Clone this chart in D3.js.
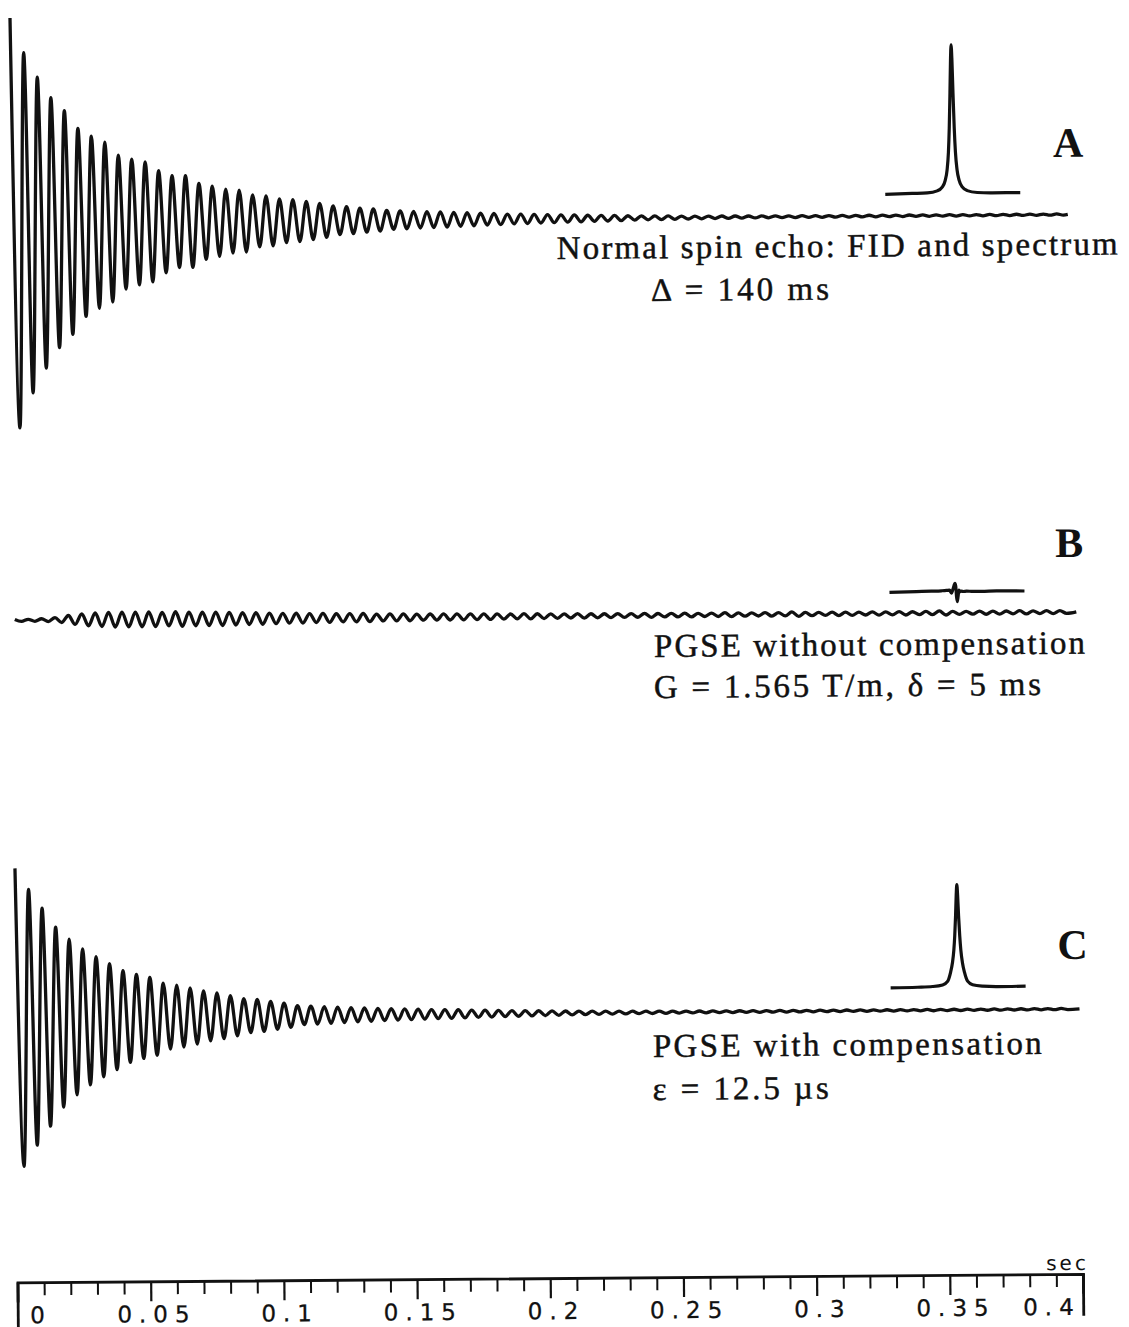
<!DOCTYPE html>
<html>
<head>
<meta charset="utf-8">
<script src="https://cdn.jsdelivr.net/npm/d3@7"></script>
<style>
  html, body { margin: 0; padding: 0; background: #fff; }
  svg { display: block; }
</style>
</head>
<body>
<svg id="chart" width="1129" height="1327"></svg>
<script>
// ---- time axis (seconds) ----
const majorTicks = [0, 0.05, 0.1, 0.15, 0.2, 0.25, 0.3, 0.35, 0.4];
const tickLabels = ["0", "0.05", "0.1", "0.15", "0.2", "0.25", "0.3", "0.35", "0.4"];
const minorTicks = [0.01, 0.02, 0.03, 0.04, 0.06, 0.07, 0.08, 0.09, 0.11, 0.12, 0.13, 0.14,
  0.16, 0.17, 0.18, 0.19, 0.21, 0.22, 0.23, 0.24, 0.26, 0.27, 0.28, 0.29,
  0.31, 0.32, 0.33, 0.34, 0.36, 0.37, 0.38, 0.39];
const axisUnit = "sec";

// ---- FIDs: oscillation period (s), start / end time (s) and
//      amplitude of every cycle (a.u., first echo maximum = 100) ----
const fidPeriod = 0.00503;

const fidStartA = 0.001, fidEndA = 0.3975;
const fidAmpA = [
  100, 83, 71, 61, 54.6, 45.9, 42, 39, 32.7, 30.7,
  29.3, 24.9, 22.4, 22.4, 18.5, 17.1, 15.6, 15.1, 12.7, 12.2,
  10.7, 10.2, 9.3, 8.3, 7.0, 6.6, 5.9, 5.4, 4.6, 4.4,
  4.1, 3.9, 3.7, 3.4, 3.2, 2.9, 2.7, 2.4, 2.3, 2.1,
  2.0, 1.8, 1.7, 1.5, 1.4, 1.3, 1.1, 1.0, 0.93, 0.83,
  0.73, 0.68, 0.63, 0.59, 0.54, 0.49, 0.46, 0.44, 0.44, 0.42,
  0.42, 0.4, 0.4, 0.39, 0.39, 0.37, 0.37, 0.35, 0.35, 0.34,
  0.34, 0.32, 0.32, 0.31, 0.31, 0.3, 0.3, 0.29, 0.29
];

const fidStartB = 0.001, fidEndB = 0.3995;
const fidAmpB = [
  0.5, 0.5, 0.7, 1.2, 2.2, 2.9, 3.3, 3.6, 3.6, 3.6,
  3.6, 3.3, 3.6, 3.3, 3.3, 3.3, 3.1, 2.9, 2.9, 2.6,
  2.4, 2.4, 2.2, 2.2, 2.0, 2.0, 2.0, 1.7, 1.7, 1.7,
  1.5, 1.5, 1.5, 1.5, 1.4, 1.4, 1.3, 1.2, 1.3, 1.2,
  1.1, 1.0, 1.15, 1.0, 0.95, 0.95, 0.9, 1.0, 0.85, 0.9,
  0.95, 0.8, 0.85, 1.0, 0.8, 0.75, 0.9, 0.8, 1.1, 0.8,
  0.75, 0.85, 0.8, 0.7, 0.8, 0.75, 0.85, 0.7, 0.8, 1.0,
  0.75, 0.7, 0.8, 0.75, 0.7, 0.8, 0.7, 0.75, 0.7
];

const fidStartC = 0.0003, fidEndC = 0.3995;
const fidAmpC = [
  72.7, 62.4, 53.2, 43.9, 38.0, 33.2, 29.3, 25.9, 22.4, 20.5,
  19.0, 16.1, 15.1, 13.7, 12.2, 11.2, 9.8, 8.3, 7.8, 6.8,
  5.9, 4.6, 4.4, 4.1, 3.8, 3.5, 3.3, 3.0, 2.8, 2.6,
  2.4, 2.2, 2.1, 2.0, 1.8, 1.7, 1.5, 1.4, 1.3, 1.2,
  1.1, 0.98, 0.9, 0.83, 0.76, 0.68, 0.63, 0.59, 0.54, 0.49,
  0.47, 0.46, 0.45, 0.44, 0.43, 0.42, 0.41, 0.4, 0.39, 0.38,
  0.37, 0.36, 0.36, 0.35, 0.35, 0.34, 0.34, 0.33, 0.33, 0.32,
  0.32, 0.31, 0.31, 0.3, 0.3, 0.3, 0.29, 0.29, 0.28
];

// ---- spectra (frequency offset, intensity relative to spectrum A) ----
const specOffset = [-67, -40, -25, -15, -10, -7, -5, -3.5, -2.5, -1.5, -0.7, 0,
  0.7, 1.5, 2.5, 3.5, 5, 7, 10, 15, 25, 40, 68];
const specA = [0, 0.005, 0.008, 0.021, 0.046, 0.09, 0.16, 0.28, 0.44, 0.68, 0.9, 1,
  0.9, 0.68, 0.44, 0.28, 0.16, 0.09, 0.046, 0.021, 0.008, 0.005, 0.005];
const specB = [0, 0.004, 0.006, 0.008, 0.01, 0.012, -0.008, 0.018, 0.04, 0.058, 0.04, -0.03,
  -0.065, -0.035, 0.012, 0.002, 0.004, 0.002, 0.004, 0.003, 0.002, 0.004, 0.002];
const specC = [0, 0.003, 0.007, 0.017, 0.041, 0.1, 0.165, 0.25, 0.345, 0.48, 0.62, 0.69,
  0.62, 0.48, 0.345, 0.25, 0.165, 0.1, 0.041, 0.017, 0.007, 0.003, 0.005];

// ---- panel texts ----
const panelLetters = ["A", "B", "C"];
const captionsA = ["Normal spin echo: FID and spectrum", "\u0394 = 140 ms"];
const captionsB = ["PGSE without compensation", "G = 1.565 T/m, \u03b4 = 5 ms"];
const captionsC = ["PGSE with compensation", "\u03b5 = 12.5 \u00b5s"];

// ================= drawing =================
const ink = "#111";
const svg = d3.select("#chart");
svg.append("rect").attr("width", 1129).attr("height", 1327).attr("fill", "#fff");

// the whole sheet sits slightly askew
const root = svg.append("g").attr("transform", "rotate(-0.46 565 660)");

const x = d3.scaleLinear().domain([0, 0.4]).range([12.5, 1078]);
const amp = d3.scaleLinear().domain([0, 100]).range([0, 205]);
const specY = d3.scaleLinear().domain([0, 1]).range([0, 149]);

function fidPoints(amps, t0, tEnd) {
  const pts = [];
  amps.forEach((a, k) => {
    pts.push([t0 + k * fidPeriod, a]);
    pts.push([t0 + (k + 0.5) * fidPeriod, -a]);
  });
  pts.push([tEnd, 0]);
  return pts;
}

const panels = [
  { amps: fidAmpA, t0: fidStartA, tEnd: fidEndA, base: 218.5,
    spec: specA, specX: 956, specBase: 197,
    letter: panelLetters[0], letterPos: [1057, 161],
    caps: captionsA, capPos: [[560, 259, 561], [654, 301.7, 178]] },
  { amps: fidAmpB, t0: fidStartB, tEnd: fidEndB, base: 616,
    spec: specB, specX: 957, specBase: 595,
    letter: panelLetters[1], letterPos: [1056, 561],
    caps: captionsB, capPos: [[654, 657.7, 431], [653.7, 698.7, 387]] },
  { amps: fidAmpC, t0: fidStartC, tEnd: fidEndC, base: 1013,
    spec: specC, specX: 955, specBase: 990.5,
    letter: panelLetters[2], letterPos: [1055, 963],
    caps: captionsC, capPos: [[649.7, 1057.7, 389], [649.3, 1100.7, 176]] }
];

panels.forEach(p => {
  const g = root.append("g");

  // free induction decay
  const fidLine = d3.line()
    .x(d => x(d[0]))
    .y(d => p.base - amp(d[1]))
    .curve(d3.curveMonotoneX);
  g.append("path")
    .datum(fidPoints(p.amps, p.t0, p.tEnd))
    .attr("d", fidLine)
    .attr("fill", "none")
    .attr("stroke", ink)
    .attr("stroke-width", 3.3)
    .attr("stroke-linejoin", "round");

  // spectrum inset
  const specLine = d3.line()
    .x((d, i) => p.specX + specOffset[i])
    .y(d => p.specBase - specY(d))
    .curve(d3.curveMonotoneX);
  g.append("path")
    .datum(p.spec)
    .attr("d", specLine)
    .attr("fill", "none")
    .attr("stroke", ink)
    .attr("stroke-width", 3.2)
    .attr("stroke-linejoin", "round");

  // panel letter
  g.append("text")
    .attr("x", p.letterPos[0]).attr("y", p.letterPos[1])
    .attr("font-family", "'Liberation Serif', 'Times New Roman', serif")
    .attr("font-weight", "bold")
    .attr("font-size", 42)
    .attr("fill", ink)
    .text(p.letter);

  // captions
  p.caps.forEach((c, i) => {
    const [cx, cy, w] = p.capPos[i];
    g.append("text")
      .attr("x", cx).attr("y", cy)
      .attr("font-family", "'Liberation Serif', 'Times New Roman', serif")
      .attr("font-size", 33)
      .attr("fill", ink)
      .attr("stroke", ink)
      .attr("stroke-width", 0.45)
      .attr("textLength", w)
      .attr("lengthAdjust", "spacing")
      .text(c);
  });
});

// ---- time axis ----
const axisY = 1278;
const gAxis = root.append("g").attr("transform", `translate(0,${axisY})`);

const minorAxis = gAxis.append("g")
  .call(d3.axisBottom(x).tickValues(minorTicks).tickSize(13).tickFormat(""));
minorAxis.select(".domain").remove();
minorAxis.selectAll(".tick line").attr("stroke", ink).attr("stroke-width", 2);

const majorAxis = gAxis.append("g")
  .call(d3.axisBottom(x).tickValues(majorTicks).tickSizeOuter(0).tickSize(20)
    .tickFormat((d, i) => tickLabels[i]));
majorAxis.select(".domain").attr("stroke", ink).attr("stroke-width", 2.8);
majorAxis.selectAll(".tick line")
  .attr("stroke", ink)
  .attr("stroke-width", d => (d === 0 || d === 0.4) ? 2.8 : 2.2)
  .attr("y2", d => d === 0 ? 60 : d === 0.4 ? 42 : 20);
majorAxis.selectAll(".tick text")
  .style("font-family", "'DejaVu Sans', sans-serif")
  .style("font-size", "23px")
  .style("letter-spacing", "7px")
  .attr("fill", ink)
  .attr("stroke", ink)
  .attr("stroke-width", 0.3)
  .attr("y", 41)
  .attr("dy", 0)
  .attr("text-anchor", d => d === 0 ? "start" : d === 0.4 ? "end" : "middle")
  .attr("dx", d => d === 0 ? 12 : d === 0.4 ? -3 : 5.5);

root.append("text")
  .attr("x", 1084).attr("y", 1274)
  .attr("text-anchor", "end")
  .style("font-family", "'DejaVu Sans', sans-serif")
  .style("font-size", "20px")
  .style("letter-spacing", "3px")
  .attr("fill", ink)
  .text(axisUnit);
</script>
</body>
</html>
